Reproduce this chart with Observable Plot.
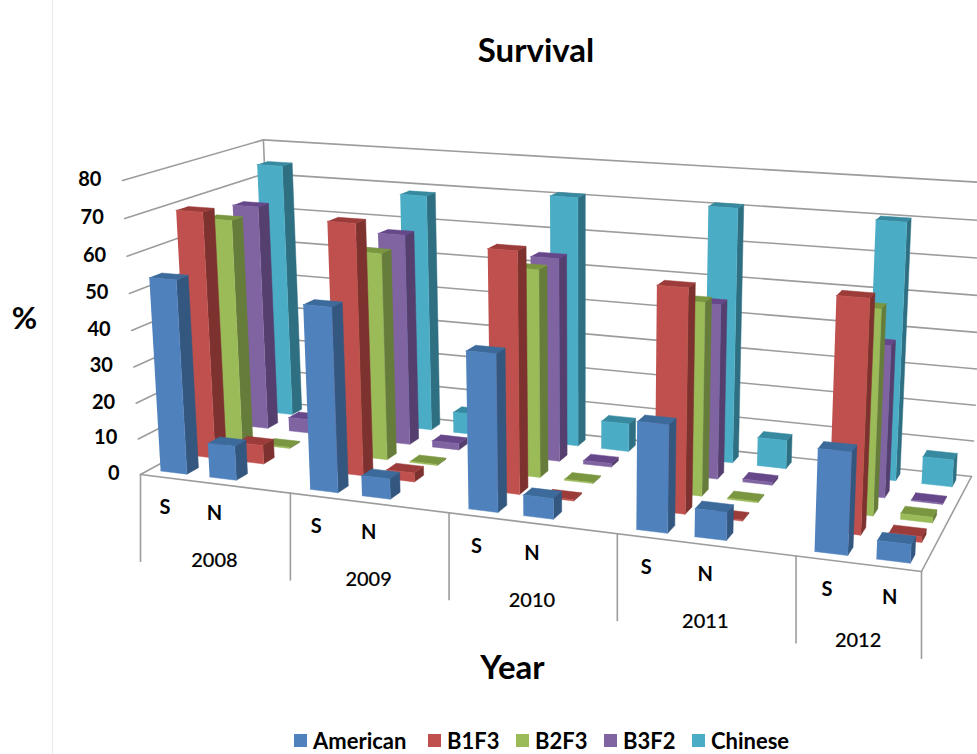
<!DOCTYPE html>
<html>
<head>
<meta charset="utf-8">
<script src="https://cdn.jsdelivr.net/npm/d3@7"></script>
<script src="https://cdn.jsdelivr.net/npm/@observablehq/plot@0.6"></script>
<style>
  html, body { margin: 0; padding: 0; background: #fff; overflow: hidden; }
  #page { position: relative; width: 977px; height: 754px; font-family: Lato, sans-serif; color: #000; }
  #rule { position: absolute; left: 52px; top: 0; width: 1px; height: 754px; background: #e9e9e9; }
  #title { height: 98px; line-height: 98px; padding-bottom: 2px; text-align: center; padding-left: 95px; font-size: 33px; font-weight: 700; }
  #chart svg { display: block; }
  #legend { height: 27px; display: flex; align-items: center; font-size: 22px; font-weight: 700; padding-top: 2px; }
  #legend span.key { display: inline-block; width: 13px; height: 13px; margin-right: 6px; }
  #legend span.item { display: inline-flex; align-items: center; position: absolute; }
</style>
</head>
<body>
<div id="page">
  <div id="rule"></div>
  <div id="title">Survival</div>
  <div id="chart"></div>
  <div id="legend"></div>
</div>
<script>
// Survival (%) by year, for S and N in each year: 2008 S, 2008 N, 2009 S, ...
const years = ["2008", "2009", "2010", "2011", "2012"];
const sites = ["S", "N"];
const seriesNames = ["American", "B1F3", "B2F3", "B3F2", "Chinese"];
const american = [53.6, 9.5, 50, 5.5, 41.8, 5.5, 28, 7.3, 26, 4.7];
const b1f3 = [69, 5.3, 69, 2.5, 65, 0.3, 59, 0.3, 60, 1.5];
const b2f3 = [64, 0.3, 58, 0.3, 57, 0.3, 52, 0.3, 54, 1.5];
const b3f2 = [65.2, 4, 60.2, 1.8, 57, 1, 48, 0.8, 41, 0.3];
const chinese = [74.5, 8, 68.6, 6, 71, 8, 71, 8, 70.3, 7.5];
const seriesValues = [american, b1f3, b2f3, b3f2, chinese];
const yTicks = [0, 10, 20, 30, 40, 50, 60, 70, 80];

const frontColors = ["#4F81BD", "#C0504D", "#9BBB59", "#8064A2", "#4BACC6"];
const sideColors = ["#34577F", "#7E3230", "#667C3A", "#553F6E", "#2F6F82"];
const topColors = ["#3C6A9B", "#9B3C3A", "#7A9640", "#66478A", "#36899F"];

// Category slots per year: S, N and an empty spacer; the last year has no spacer.
const slotCount = 14;
const yearSlots = [3, 3, 3, 3, 2];
const barWidth = 0.54;
const barDepth = 0.4;

// Camera: floor corners and the vertical vanishing point, in page pixels.
const floorCorners = [[140, 474], [921, 571], [971, 476], [274, 401]];
const verticalVanish = [584, 7700];
const heightScale = -4.887e-4;

function makeProjection([[x0, y0], [x1, y1], [x2, y2], [x3, y3]], [vx, vy], s) {
  const dx1 = x1 - x2, dx2 = x3 - x2, sx = x0 - x1 + x2 - x3;
  const dy1 = y1 - y2, dy2 = y3 - y2, sy = y0 - y1 + y2 - y3;
  const den = dx1 * dy2 - dx2 * dy1;
  const g = (sx * dy2 - dx2 * sy) / den;
  const k = (dx1 * sy - sx * dy1) / den;
  const a = x1 - x0 + g * x1, b = x3 - x0 + k * x3;
  const d = y1 - y0 + g * y1, e = y3 - y0 + k * y3;
  return (u, v, h) => {
    const w = g * u + k * v + 1 + s * h;
    return [(a * u + b * v + x0 + s * vx * h) / w, (d * u + e * v + y0 + s * vy * h) / w];
  };
}
const project = makeProjection(floorCorners, verticalVanish, heightScale);

// Walls, floor outline
const gridSegments = [];
function segment(id, from, to) {
  [from, to].forEach(([u, v, h]) => {
    const [px, py] = project(u, v, h);
    gridSegments.push({id, px, py});
  });
}
yTicks.forEach(t => {
  segment(`back-${t}`, [0, 1, t], [1, 1, t]);
  segment(`left-${t}`, [0, 0, t], [0, 1, t]);
});
segment("corner", [0, 1, 0], [0, 1, 80]);
segment("front", [0, 0, 0], [1, 0, 0]);
segment("right", [1, 0, 0], [1, 1, 0]);

// Bars are painted back row first, left to right, so nearer faces cover farther ones.
const faces = [];
function addFace(id, fill, corners) {
  corners.forEach(([u, v, h]) => {
    const [px, py] = project(u, v, h);
    faces.push({id, fill, px, py});
  });
}
for (let row = seriesNames.length - 1; row >= 0; row--) {
  seriesValues[row].forEach((value, i) => {
    const slot = Math.floor(i / 2) * 3 + i % 2;
    const u0 = (slot + (1 - barWidth) / 2) / slotCount;
    const u1 = u0 + barWidth / slotCount;
    const v0 = (row + (1 - barDepth) / 2) / seriesNames.length;
    const v1 = v0 + barDepth / seriesNames.length;
    const id = `${row}-${i}`;
    addFace(`${id}-side`, sideColors[row], [[u1, v0, 0], [u1, v1, 0], [u1, v1, value], [u1, v0, value]]);
    addFace(`${id}-top`, topColors[row], [[u0, v0, value], [u1, v0, value], [u1, v1, value], [u0, v1, value]]);
    addFace(`${id}-front`, frontColors[row], [[u0, v0, 0], [u1, v0, 0], [u1, v0, value], [u0, v0, value]]);
  });
}

// Category separators hanging under the floor's front edge
const separators = [0, 3, 6, 9, 12, 14].map(slot => {
  const [px, py] = project(slot / slotCount, 0, 0);
  return {px, py, end: py + 88};
});
const siteLabels = years.flatMap((year, y) => sites.map((label, s) => {
  const [px, py] = project((y * 3 + s + 0.5) / slotCount, 0, 0);
  return {label, px, py: py + 30};
}));
const yearLabels = years.map((label, y) => {
  const [px, py] = project((y * 3 + yearSlots[y] / 2) / slotCount, 0, 0);
  return {label, px, py: py + 77};
});
const valueLabels = yTicks.map(t => {
  const [px, py] = project(0, 0, t);
  return {label: String(t), px: px - 21, py: py - 1};
});

const font = "Lato, sans-serif";
const gridColor = "#9c9c9c";
const chart = Plot.plot({
  width: 977,
  height: 625,
  margin: 0,
  x: {domain: [0, 977], range: [0, 977], axis: null},
  y: {domain: [100, 725], range: [0, 625], axis: null},
  color: {type: "identity"},
  marks: [
    Plot.line(gridSegments, {x: "px", y: "py", z: "id", stroke: gridColor, strokeWidth: 1.6}),
    Plot.ruleX(separators, {x: "px", y1: "py", y2: "end", stroke: gridColor, strokeWidth: 1.6}),
    Plot.line(faces, {x: "px", y: "py", z: "id", fill: "fill", stroke: "fill", strokeWidth: 0.5}),
    Plot.text(valueLabels, {x: "px", y: "py", text: "label", textAnchor: "end", fontFamily: font, fontWeight: 700, fontSize: 20, fill: "#000"}),
    Plot.text(siteLabels, {x: "px", y: "py", text: "label", fontFamily: font, fontWeight: 700, fontSize: 20, fill: "#000"}),
    Plot.text(yearLabels, {x: "px", y: "py", text: "label", fontFamily: font, fontWeight: 500, fontSize: 20, fill: "#000", stroke: "#000", strokeWidth: 0.15}),
    Plot.text([{label: "%", px: 24, py: 319}], {x: "px", y: "py", text: "label", fontFamily: font, fontWeight: 700, fontSize: 31, fill: "#000"}),
    Plot.text([{label: "Year", px: 512, py: 668}], {x: "px", y: "py", text: "label", fontFamily: font, fontWeight: 700, fontSize: 33, fill: "#000"})
  ]
});
document.getElementById("chart").appendChild(chart);

// Legend row under the plot
const legendStarts = [294, 428, 516, 604, 692];
const legend = d3.select("#legend");
seriesNames.forEach((name, i) => {
  const item = legend.append("span").attr("class", "item").style("left", `${legendStarts[i]}px`);
  item.append("span").attr("class", "key").style("background", frontColors[i]);
  item.append("span").text(name);
});
</script>
</body>
</html>
